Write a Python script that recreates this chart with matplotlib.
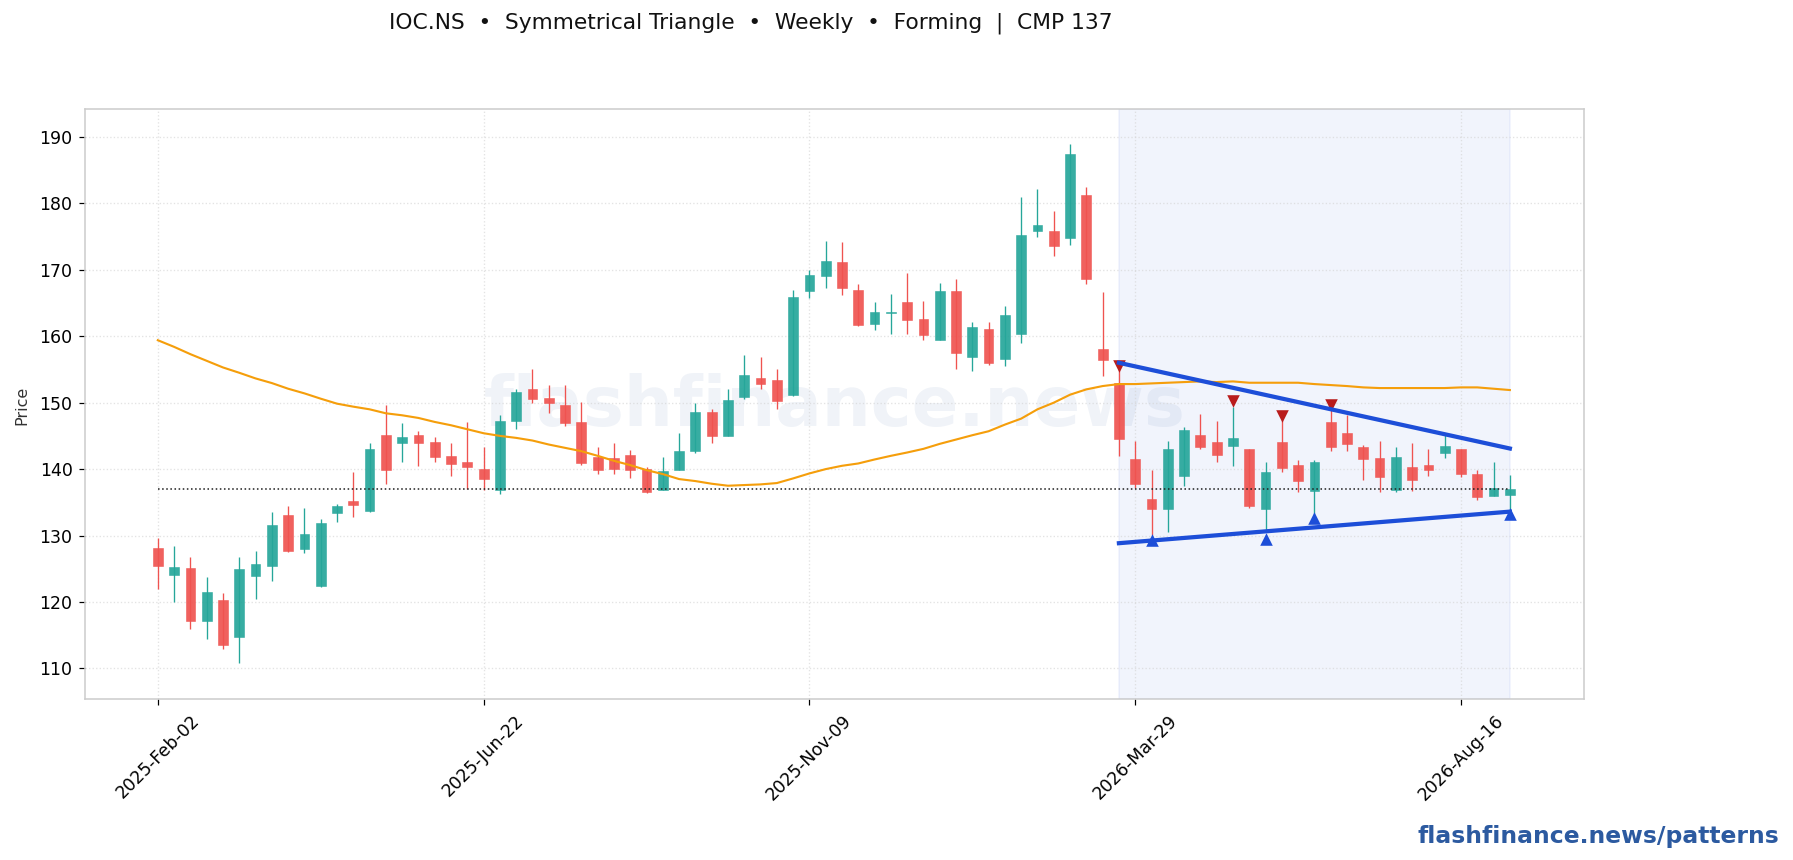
import matplotlib
matplotlib.use("Agg")
import matplotlib.pyplot as plt
from matplotlib.patches import Rectangle

TITLE = "IOC.NS  •  Symmetrical Triangle  •  Weekly  •  Forming  |  CMP 137"
tick_idx = [0, 20, 40, 60, 80]
tick_labels = ["2025-Feb-02", "2025-Jun-22", "2025-Nov-09", "2026-Mar-29", "2026-Aug-16"]
y_ticks = [110, 120, 130, 140, 150, 160, 170, 180, 190]

opens = [128.1, 124.05, 125.1, 117.1, 120.3, 114.7, 123.9, 125.4, 133.1, 128.0, 122.4, 133.4,
         135.2, 133.7, 145.1, 143.9, 145.1, 144.1, 142.0, 141.1, 140.0, 136.8, 147.2, 152.0,
         150.7, 149.6, 147.1, 141.8, 141.6, 142.1, 140.0, 136.8, 139.8, 142.7, 148.6, 145.0,
         150.8, 153.7, 153.4, 151.1, 166.8, 169.1, 171.1, 166.9, 161.8, 163.5, 165.1, 162.6,
         159.4, 166.8, 156.9, 161.1, 156.5, 160.3, 175.8, 175.8, 174.8, 181.2, 158.1, 153.0,
         141.5, 135.5, 134.0, 138.9, 145.1, 144.1, 143.5, 143.0, 134.0, 144.1, 140.6, 136.7,
         147.1, 145.4, 143.3, 141.6, 136.8, 140.3, 140.6, 142.4, 143.0, 139.2, 135.9, 136.1]
closes = [125.4, 125.25, 117.1, 121.5, 113.5, 125.0, 125.7, 131.6, 127.7, 130.2, 131.9, 134.4,
          134.6, 143.0, 139.9, 144.8, 143.9, 141.8, 140.8, 140.3, 138.5, 147.2, 151.6, 150.5,
          149.9, 146.9, 140.9, 139.9, 140.0, 139.8, 136.6, 139.7, 142.7, 148.6, 145.0, 150.4,
          154.1, 152.8, 150.2, 165.9, 169.2, 171.3, 167.3, 161.7, 163.6, 163.6, 162.4, 160.2,
          166.8, 157.5, 161.4, 156.0, 163.2, 175.2, 176.7, 173.6, 187.4, 168.6, 156.4, 144.5,
          137.7, 134.0, 143.0, 145.9, 143.3, 142.1, 144.7, 134.4, 139.5, 140.1, 138.2, 141.0,
          143.3, 143.8, 141.5, 138.8, 141.8, 138.3, 139.9, 143.5, 139.2, 135.8, 137.1, 137.0]
highs = [129.7, 128.5, 126.7, 123.7, 121.3, 126.8, 127.7, 133.5, 134.4, 134.2, 132.5, 134.8,
         139.6, 144.0, 149.7, 146.9, 145.8, 144.8, 144.0, 147.1, 143.4, 148.2, 152.0, 155.0,
         152.6, 152.7, 150.1, 143.3, 143.9, 142.9, 140.3, 141.8, 145.4, 149.9, 149.1, 152.0,
         157.1, 156.8, 155.0, 167.0, 170.0, 174.4, 174.2, 167.8, 165.1, 166.4, 169.5, 165.3,
         168.0, 168.6, 162.1, 162.2, 164.6, 180.9, 182.2, 178.9, 188.9, 182.4, 166.7, 155.0,
         144.3, 139.8, 144.3, 146.4, 148.3, 147.3, 149.4, 143.1, 141.0, 148.1, 141.4, 141.4,
         149.6, 148.1, 143.7, 144.2, 143.4, 144.0, 143.0, 145.1, 143.0, 139.8, 141.1, 139.1]
lows = [121.9, 120.0, 116.0, 114.5, 113.0, 110.75, 120.4, 123.2, 127.5, 127.3, 122.3, 132.0,
        132.8, 133.6, 137.7, 141.0, 140.5, 141.1, 139.0, 137.0, 136.9, 136.3, 146.1, 150.0,
        148.5, 146.5, 140.6, 139.3, 139.3, 138.7, 136.4, 136.8, 139.8, 142.4, 143.9, 145.0,
        150.5, 152.0, 149.1, 151.0, 165.8, 167.3, 166.2, 161.5, 161.0, 160.3, 160.4, 159.5,
        159.4, 155.1, 154.7, 155.6, 155.5, 159.0, 174.9, 172.1, 173.7, 167.9, 154.0, 142.0,
        137.1, 130.1, 130.5, 137.5, 143.0, 141.1, 140.5, 134.2, 130.6, 139.6, 136.6, 132.8,
        142.7, 142.8, 138.4, 136.6, 136.6, 136.7, 138.9, 141.6, 138.8, 135.3, 135.9, 133.8]
ma_line = [159.4, 158.4, 157.3, 156.3, 155.3, 154.5, 153.65, 152.95, 152.1, 151.4, 150.6, 149.85,
           149.4, 149.0, 148.4, 148.1, 147.7, 147.1, 146.6, 146.0, 145.4, 145.0, 144.7, 144.3,
           143.7, 143.2, 142.7, 142.0, 141.25, 140.6, 139.85, 139.25, 138.5, 138.2, 137.8, 137.5,
           137.6, 137.7, 137.9, 138.6, 139.35, 140.0, 140.5, 140.85, 141.45, 142.0, 142.5, 143.05,
           143.8, 144.45, 145.1, 145.7, 146.7, 147.6, 149.0, 150.0, 151.2, 152.0, 152.5, 152.8,
           152.8, 152.9, 153.0, 153.1, 153.2, 153.1, 153.2, 153.0, 153.0, 153.0, 153.0, 152.8,
           152.65, 152.5, 152.3, 152.2, 152.2, 152.2, 152.2, 152.2, 152.3, 152.3, 152.1, 151.9]

cmp_price = 137
pattern_start, pattern_end = 59, 83
upper_line = [156.0, 143.1]
lower_line = [128.85, 133.6]
swing_high_idx = [59, 66, 69, 72]
swing_high_val = [155.5, 150.2, 148.0, 149.6]
swing_low_idx = [61, 68, 71, 83]
swing_low_val = [129.3, 129.5, 132.6, 133.2]

UP = "#26a69a"
DOWN = "#ef5350"
BLUE = "#1d4ed8"
W, H, DPI = 1793, 860, 160

fig = plt.figure(figsize=(W / DPI, H / DPI), dpi=DPI)
ax = fig.add_axes([85 / W, 1 - 699 / H, (1584 - 85) / W, (699 - 109) / H])

ax.axvspan(pattern_start, pattern_end, facecolor=BLUE, edgecolor=BLUE, alpha=0.06, lw=0.8, zorder=0)
ax.text(0.5, 0.495, "flashfinance.news", transform=ax.transAxes, ha="center", va="center",
        fontsize=31, fontweight="bold", color="#2c5aa0", alpha=0.07, zorder=0)

for i, (o, h, l, c) in enumerate(zip(opens, highs, lows, closes)):
    col = UP if c >= o else DOWN
    ax.plot([i, i], [l, h], color=col, lw=0.6, zorder=3, solid_capstyle="butt")
    body = Rectangle((i - 0.3, min(o, c)), 0.6, max(abs(c - o), 0.12), facecolor=col,
                     edgecolor=col, lw=0.25, alpha=0.92, zorder=4)
    ax.add_patch(body)

ax.plot(range(len(ma_line)), ma_line, color="#f59e0b", lw=0.95, zorder=5)
ax.plot([0, len(opens) - 1], [cmp_price, cmp_price], color="#222222", ls=":", lw=0.7, zorder=5)
ax.scatter(swing_high_idx, swing_high_val, marker="v", s=32, color="#b91c1c", lw=0, zorder=6)
ax.scatter(swing_low_idx, swing_low_val, marker="^", s=32, color=BLUE, lw=0, zorder=6)
ax.plot([pattern_start, pattern_end], upper_line, color=BLUE, lw=1.9, zorder=7)
ax.plot([pattern_start, pattern_end], lower_line, color=BLUE, lw=1.9, zorder=7)

ax.set_xlim(-4.47, 87.55)
ax.set_ylim(105.4, 194.2)
ax.set_xticks(tick_idx)
ax.set_xticklabels(tick_labels, rotation=45, ha="center", rotation_mode="default")
ax.set_yticks(y_ticks)
ax.tick_params(axis="both", labelsize=7.8, length=2.6, width=0.55, pad=3)
ax.grid(True, ls=":", lw=0.6, color="#d4d4d4", alpha=0.65)
ax.set_axisbelow(True)
for s in ax.spines.values():
    s.set_color("#cccccc")
    s.set_linewidth(0.7)

fig.text(22 / W, 1 - 405 / H, "Price", rotation=90, ha="center", va="center", fontsize=7.2, color="#333333")
fig.text(750.6 / W, 1 - 23 / H, TITLE, ha="center", va="center", fontsize=9.77, color="#111111")
fig.text(1779 / W, 1 - 836 / H, "flashfinance.news/patterns", ha="right", va="center",
         fontsize=10.57, fontweight="bold", color="#2c5aa0")

fig.savefig("out.png", dpi=DPI)
